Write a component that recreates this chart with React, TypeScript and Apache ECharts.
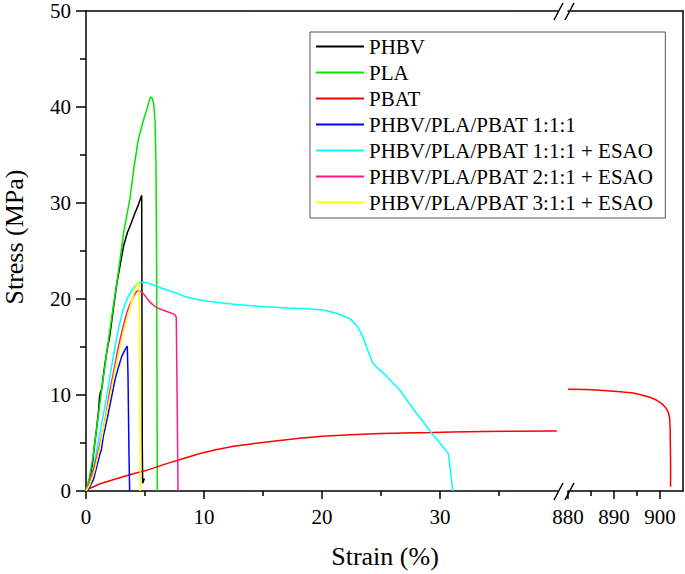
import React, { useEffect, useRef } from "react";
import * as echarts from "echarts";

const FONT = '"Liberation Serif", "Times New Roman", serif';

const SERIES_NAMES = [
  "PHBV",
  "PLA",
  "PBAT",
  "PHBV/PLA/PBAT 1:1:1",
  "PHBV/PLA/PBAT 1:1:1 + ESAO",
  "PHBV/PLA/PBAT 2:1:1 + ESAO",
  "PHBV/PLA/PBAT 3:1:1 + ESAO",
];
const SERIES_COLORS = ["#000000", "#00e600", "#ff0000", "#0000ff", "#00ffff", "#ff1a8c", "#ffff00"];

const X_LEFT_MAJOR = [0, 10, 20, 30];
const X_LEFT_MINOR = [5, 15, 25, 35];
const X_RIGHT_MAJOR = [880, 890, 900];
const X_RIGHT_MINOR = [885, 895];

const PHBV = [
  [0, 0], [0.3, 1.0], [0.55, 2.8], [0.7, 4.6], [0.9, 6.5], [1.05, 8.2], [1.15, 9.8], [1.22, 10.3],
  [1.33, 10.6], [1.45, 11.8], [1.6, 13.2], [1.8, 14.8], [2.0, 16.0], [2.3, 18.8], [2.6, 21.5],
  [2.9, 23.6], [3.2, 25.6], [3.5, 26.9], [3.8, 27.8], [4.1, 28.8], [4.4, 29.7], [4.72, 30.8],
  [4.74, 20], [4.77, 5], [4.8, 0.8], [4.95, 1.3],
];
const PLA = [
  [0, 0], [0.3, 1.5], [0.6, 3.6], [1.0, 7.5], [1.4, 11.2], [1.8, 14.8], [2.2, 18.3], [2.74, 22.8],
  [3.2, 27], [3.73, 30.5], [4.1, 34], [4.43, 36.6], [4.86, 38.6], [5.14, 39.7], [5.35, 40.6],
  [5.48, 41.05], [5.62, 40.9], [5.75, 40.2], [5.85, 38.5], [5.93, 34], [5.98, 25], [6.02, 10], [6.04, 0],
];
const PBAT_LEFT = [
  [0, 0.1], [1.2, 0.75], [2.5, 1.25], [4, 1.8], [5, 2.1], [6.84, 2.85], [8.2, 3.35], [9.66, 3.9],
  [11, 4.3], [12.5, 4.65], [14, 4.9], [15.3, 5.1], [17, 5.35], [18.1, 5.5], [20, 5.7], [22.4, 5.85],
  [25, 6.0], [27, 6.05], [29.4, 6.1], [31, 6.15], [33.7, 6.2], [36, 6.22], [39.9, 6.25],
];
const PBAT_RIGHT = [
  [880, 10.6], [884, 10.58], [887, 10.5], [890, 10.4], [892, 10.3], [894.2, 10.2], [896, 10.0],
  [897.8, 9.76], [899.3, 9.45], [900.4, 9.1], [901.2, 8.7], [901.8, 8.2], [902.1, 7.6], [902.2, 6.5],
  [902.3, 3], [902.3, 0.45],
];
const BLEND_111 = [
  [0, 0], [0.3, 0.4], [0.62, 1.15], [0.9, 2.5], [1.19, 3.9], [1.3, 4.3], [1.47, 5.7], [1.89, 8.1],
  [2.2, 10], [2.46, 11.6], [2.75, 12.9], [3.02, 14], [3.3, 14.7], [3.5, 15.1], [3.56, 12], [3.64, 4], [3.7, 0],
];
const BLEND_111_ESAO = [
  [0, 0], [0.3, 0.8], [0.6, 2.2], [1.0, 4.8], [1.4, 7.5], [1.75, 9.8], [2.1, 12.5], [2.46, 15],
  [2.8, 17.2], [3.16, 18.9], [3.5, 20.1], [3.73, 20.6], [4.0, 21.1], [4.29, 21.5], [4.6, 21.7],
  [4.86, 21.75], [5.2, 21.7], [5.7, 21.45], [6.5, 21.1], [7.68, 20.6], [8.5, 20.2], [9.66, 19.9],
  [11, 19.65], [12.5, 19.45], [14, 19.3], [15.3, 19.2], [17, 19.05], [18.1, 19.0], [19, 18.95],
  [20.1, 18.85], [21, 18.6], [21.8, 18.25], [22.4, 17.9], [22.9, 17.3], [23.3, 16.5], [23.6, 15.6],
  [23.9, 14.6], [24.3, 13.3], [24.8, 12.7], [25.2, 12.3], [25.9, 11.4], [26.6, 10.5], [27.3, 9.3],
  [28.0, 8.1], [28.7, 7.0], [29.3, 6.0], [30.0, 5.0], [30.7, 3.9], [30.9, 2], [31.07, 0],
];
const BLEND_211_ESAO = [
  [0, 0], [0.3, 0.8], [0.7, 2.5], [1.1, 4.5], [1.47, 6.4], [1.75, 8.4], [2.03, 10.5], [2.4, 12.8],
  [2.74, 15], [3.1, 16.9], [3.44, 18.5], [3.7, 19.4], [4.0, 20.2], [4.29, 20.8], [4.5, 20.85],
  [4.75, 20.7], [5.0, 20.35], [5.4, 19.7], [5.85, 19.2], [6.3, 18.95], [6.84, 18.7], [7.2, 18.55],
  [7.55, 18.35], [7.65, 18.1], [7.72, 10], [7.8, 0],
];
const BLEND_311_ESAO = [
  [0, 0], [0.3, 0.6], [0.7, 2.0], [1.19, 4.6], [1.6, 7.2], [2.03, 9.8], [2.45, 12.5], [2.88, 15],
  [3.25, 17], [3.59, 18.5], [3.9, 19.9], [4.15, 20.9], [4.35, 21.8], [4.5, 21.3], [4.55, 15], [4.6, 0],
];

const AXIS_LINE = { show: true, onZero: false, lineStyle: { color: "#000", width: 1.5 } };
const TICK_STYLE = { color: "#000", width: 1.5 };
const LABEL = { fontFamily: FONT, fontSize: 21, color: "#000" };

function xAxesFor(gridIndex: number, min: number, max: number, major: number[], minor: number[]) {
  return [
    {
      gridIndex, type: "value", position: "bottom", min, max, interval: 10,
      axisLine: AXIS_LINE,
      axisTick: { show: true, customValues: major, length: 8, inside: false, lineStyle: TICK_STYLE },
      axisLabel: { ...LABEL, customValues: major, margin: 15 },
      splitLine: { show: false },
    },
    {
      gridIndex, type: "value", position: "bottom", min, max, interval: 10,
      axisLine: { show: false, onZero: false },
      axisTick: { show: true, customValues: minor, length: 5, inside: false, lineStyle: TICK_STYLE },
      axisLabel: { show: false },
      splitLine: { show: false },
    },
    {
      gridIndex, type: "value", position: "top", min, max, interval: 10,
      axisLine: AXIS_LINE,
      axisTick: { show: false },
      axisLabel: { show: false },
      splitLine: { show: false },
    },
  ];
}

export default function App() {
  const ref = useRef<HTMLDivElement>(null);
  useEffect(() => {
    if (!ref.current) return;
    const chart = echarts.init(ref.current, null, { renderer: "svg" });
    const datasets = [PHBV, PLA, PBAT_LEFT, BLEND_111, BLEND_111_ESAO, BLEND_211_ESAO, BLEND_311_ESAO];
    const series: any[] = datasets.map((d, i) => ({
      type: "line",
      name: SERIES_NAMES[i],
      data: d,
      xAxisIndex: 0,
      yAxisIndex: 0,
      symbol: "none",
      showSymbol: false,
      color: SERIES_COLORS[i],
      lineStyle: { width: 1.5, color: SERIES_COLORS[i] },
      z: 2 + i,
    }));
    series.push({
      type: "line",
      name: SERIES_NAMES[2],
      data: PBAT_RIGHT,
      xAxisIndex: 3,
      yAxisIndex: 1,
      symbol: "none",
      showSymbol: false,
      color: SERIES_COLORS[2],
      lineStyle: { width: 1.5, color: SERIES_COLORS[2] },
      z: 4,
    });
    const brk = (x1: number, y1: number, x2: number, y2: number) => ({
      type: "line",
      shape: { x1, y1, x2, y2 },
      style: { stroke: "#000", lineWidth: 1.5 },
      z: 100,
    });
    chart.setOption({
      animation: false,
      backgroundColor: "#fff",
      textStyle: { fontFamily: FONT },
      grid: [
        { left: 86, top: 11, width: 472, height: 480 },
        { left: 568, top: 11, width: 115, height: 480 },
      ],
      xAxis: [
        ...xAxesFor(0, 0, 40, X_LEFT_MAJOR, X_LEFT_MINOR),
        ...xAxesFor(1, 880, 905, X_RIGHT_MAJOR, X_RIGHT_MINOR),
      ],
      yAxis: [
        {
          gridIndex: 0, type: "value", position: "left", min: 0, max: 50, interval: 10,
          axisLine: AXIS_LINE,
          axisTick: { show: true, length: 10, inside: false, lineStyle: TICK_STYLE },
          minorTick: { show: true, splitNumber: 2, length: 6, lineStyle: TICK_STYLE },
          axisLabel: { ...LABEL, margin: 15 },
          splitLine: { show: false },
        },
        {
          gridIndex: 1, type: "value", position: "right", min: 0, max: 50, interval: 10,
          axisLine: AXIS_LINE,
          axisTick: { show: false },
          axisLabel: { show: false },
          splitLine: { show: false },
        },
      ],
      legend: {
        left: 310,
        top: 32,
        orient: "vertical",
        data: SERIES_NAMES,
        icon: "rect",
        itemWidth: 48,
        itemHeight: 2,
        itemGap: 5,
        padding: [4, 12, 5, 6],
        borderColor: "#555",
        borderWidth: 1,
        selectedMode: false,
        textStyle: { fontFamily: FONT, fontSize: 21, color: "#000", lineHeight: 21 },
      },
      graphic: [
        brk(554, 500, 563, 483),
        brk(565, 500, 574, 483),
        brk(554, 20, 563, 3),
        brk(565, 20, 574, 3),
        {
          type: "text",
          x: 14,
          y: 237,
          rotation: Math.PI / 2,
          style: {
            text: "Stress (MPa)",
            fontFamily: FONT,
            fontSize: 26,
            fill: "#000",
            textAlign: "center",
            textVerticalAlign: "middle",
          },
        },
        {
          type: "text",
          x: 385,
          y: 556,
          style: {
            text: "Strain (%)",
            fontFamily: FONT,
            fontSize: 26,
            fill: "#000",
            textAlign: "center",
            textVerticalAlign: "middle",
          },
        },
      ],
      series,
    });
    return () => chart.dispose();
  }, []);
  return <div ref={ref} style={{ position: "absolute", left: 0, top: 0, width: 685, height: 574 }} />;
}
